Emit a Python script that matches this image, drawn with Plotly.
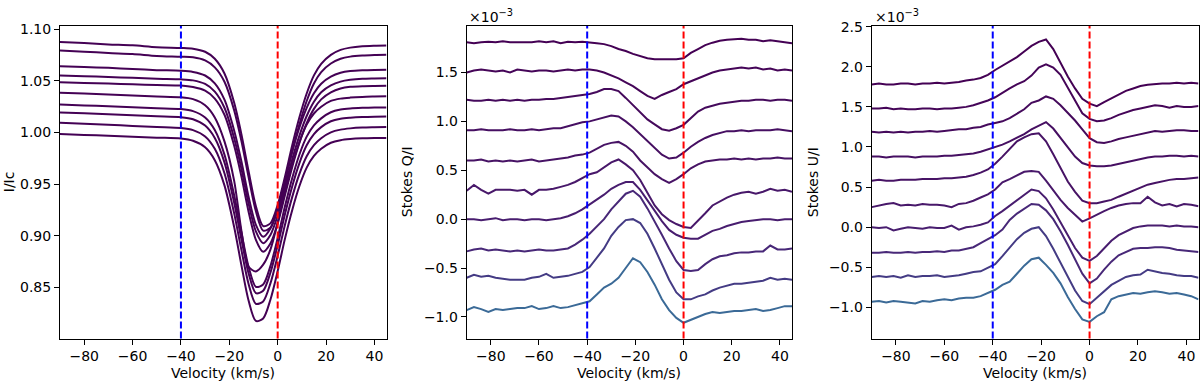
import plotly.graph_objects as go

# ---- Stokes I panel: velocity grid and normalised intensity profiles (top to bottom)
vel_i = [-90, -80, -70, -60, -50, -40, -35, -30, -26, -22, -18, -15, -12, -9, -6, -3,
         0, 3, 6, 9, 12, 15, 18, 22, 26, 30, 35, 40, 45]

i_01 = [1.0876, 1.0866, 1.0853, 1.0844, 1.0826, 1.0819, 1.0812, 1.0782, 1.0714, 1.0571, 1.0290, 0.9984, 0.9623, 0.9286, 0.9094, 0.9120, 0.9298, 0.9570, 0.9875, 1.0148, 1.0378, 1.0553, 1.0665, 1.0752, 1.0800, 1.0822, 1.0835, 1.0840, 1.0842]
i_02 = [1.0794, 1.0783, 1.0770, 1.0760, 1.0742, 1.0734, 1.0728, 1.0698, 1.0631, 1.0492, 1.0217, 0.9919, 0.9566, 0.9237, 0.9050, 0.9077, 0.9251, 0.9516, 0.9815, 1.0080, 1.0305, 1.0475, 1.0585, 1.0668, 1.0714, 1.0735, 1.0746, 1.0751, 1.0753]
i_03 = [1.0642, 1.0635, 1.0626, 1.0615, 1.0604, 1.0598, 1.0587, 1.0552, 1.0476, 1.0318, 1.0020, 0.9721, 0.9376, 0.9106, 0.8990, 0.9070, 0.9266, 0.9540, 0.9815, 1.0048, 1.0238, 1.0380, 1.0472, 1.0540, 1.0578, 1.0595, 1.0603, 1.0606, 1.0607]
i_04 = [1.0553, 1.0546, 1.0537, 1.0530, 1.0521, 1.0515, 1.0505, 1.0470, 1.0396, 1.0240, 0.9946, 0.9650, 0.9310, 0.9042, 0.8928, 0.9008, 0.9198, 0.9468, 0.9739, 0.9970, 1.0160, 1.0298, 1.0390, 1.0456, 1.0493, 1.0510, 1.0520, 1.0523, 1.0525]
i_05 = [1.0487, 1.0480, 1.0474, 1.0467, 1.0460, 1.0455, 1.0440, 1.0405, 1.0329, 1.0172, 0.9874, 0.9575, 0.9231, 0.8961, 0.8845, 0.8925, 0.9118, 0.9392, 0.9665, 0.9898, 1.0090, 1.0229, 1.0321, 1.0389, 1.0426, 1.0442, 1.0449, 1.0451, 1.0452]
i_06 = [1.0385, 1.0377, 1.0368, 1.0358, 1.0349, 1.0341, 1.0323, 1.0264, 1.0146, 0.9914, 0.9534, 0.9050, 0.8700, 0.8655, 0.8720, 0.8866, 0.9130, 0.9425, 0.9689, 0.9910, 1.0078, 1.0184, 1.0250, 1.0306, 1.0328, 1.0338, 1.0345, 1.0348, 1.0350]
i_07 = [1.0271, 1.0262, 1.0254, 1.0244, 1.0235, 1.0227, 1.0207, 1.0146, 1.0024, 0.9786, 0.9394, 0.9033, 0.8697, 0.8505, 0.8528, 0.8706, 0.8978, 0.9283, 0.9557, 0.9787, 0.9960, 1.0068, 1.0137, 1.0196, 1.0222, 1.0233, 1.0239, 1.0242, 1.0243]
i_08 = [1.0195, 1.0186, 1.0176, 1.0166, 1.0157, 1.0148, 1.0128, 1.0067, 0.9947, 0.9711, 0.9323, 0.8966, 0.8634, 0.8444, 0.8467, 0.8642, 0.8909, 0.9209, 0.9478, 0.9704, 0.9876, 0.9985, 1.0052, 1.0109, 1.0133, 1.0143, 1.0150, 1.0153, 1.0154]
i_09 = [1.0094, 1.0084, 1.0074, 1.0064, 1.0053, 1.0043, 1.0023, 0.9962, 0.9842, 0.9606, 0.9219, 0.8863, 0.8531, 0.8341, 0.8364, 0.8539, 0.8806, 0.9105, 0.9374, 0.9599, 0.9770, 0.9878, 0.9945, 1.0002, 1.0028, 1.0040, 1.0048, 1.0051, 1.0053]
i_10 = [0.9986, 0.9977, 0.9968, 0.9960, 0.9950, 0.9942, 0.9920, 0.9857, 0.9732, 0.9488, 0.9086, 0.8716, 0.8371, 0.8175, 0.8199, 0.8381, 0.8658, 0.8970, 0.9248, 0.9482, 0.9660, 0.9773, 0.9843, 0.9901, 0.9926, 0.9937, 0.9944, 0.9947, 0.9948]

# ---- Stokes Q/I and U/I panels (values in units of 1e-3), velocity grid
vel_qu = [-90, -87, -84, -81, -78, -75, -72, -69, -66, -63, -60, -57, -54, -51, -48, -45,
          -42, -39, -36, -33, -30, -27, -24, -21, -18, -15, -12, -9, -6, -3, 0, 3, 6, 9,
          12, 15, 18, 21, 24, 27, 30, 33, 36, 39, 42, 45]

q_01 = [1.81, 1.80, 1.81, 1.815, 1.81, 1.82, 1.81, 1.81, 1.815, 1.81, 1.82, 1.81, 1.82, 1.80, 1.815, 1.81, 1.815, 1.81, 1.80, 1.79, 1.77, 1.74, 1.72, 1.69, 1.67, 1.645, 1.635, 1.635, 1.635, 1.635, 1.645, 1.70, 1.74, 1.78, 1.805, 1.825, 1.835, 1.84, 1.845, 1.835, 1.835, 1.82, 1.83, 1.82, 1.81, 1.80]
q_02 = [1.50, 1.52, 1.53, 1.52, 1.51, 1.52, 1.50, 1.53, 1.52, 1.51, 1.52, 1.52, 1.51, 1.52, 1.53, 1.52, 1.53, 1.53, 1.52, 1.50, 1.47, 1.44, 1.40, 1.36, 1.31, 1.26, 1.23, 1.27, 1.30, 1.33, 1.38, 1.41, 1.44, 1.47, 1.50, 1.52, 1.53, 1.54, 1.55, 1.54, 1.55, 1.53, 1.54, 1.52, 1.53, 1.52]
q_03 = [1.22, 1.21, 1.21, 1.22, 1.21, 1.22, 1.21, 1.22, 1.21, 1.22, 1.22, 1.23, 1.23, 1.24, 1.25, 1.26, 1.27, 1.28, 1.30, 1.33, 1.33, 1.31, 1.24, 1.17, 1.09, 1.02, 0.97, 0.92, 0.905, 0.93, 0.965, 1.03, 1.10, 1.14, 1.16, 1.18, 1.19, 1.20, 1.21, 1.21, 1.22, 1.22, 1.21, 1.22, 1.22, 1.21]
q_04 = [0.91, 0.91, 0.92, 0.91, 0.91, 0.91, 0.92, 0.91, 0.91, 0.92, 0.91, 0.92, 0.93, 0.93, 0.95, 0.97, 0.99, 1.00, 1.02, 1.04, 1.06, 1.05, 1.00, 0.94, 0.87, 0.79, 0.72, 0.66, 0.62, 0.63, 0.68, 0.74, 0.79, 0.83, 0.86, 0.88, 0.90, 0.90, 0.91, 0.90, 0.91, 0.91, 0.91, 0.92, 0.91, 0.90]
q_05 = [0.60, 0.60, 0.61, 0.59, 0.60, 0.59, 0.60, 0.59, 0.60, 0.61, 0.59, 0.60, 0.61, 0.62, 0.63, 0.65, 0.66, 0.68, 0.72, 0.76, 0.78, 0.79, 0.75, 0.69, 0.60, 0.53, 0.46, 0.41, 0.37, 0.41, 0.46, 0.52, 0.56, 0.59, 0.60, 0.61, 0.61, 0.62, 0.61, 0.62, 0.61, 0.62, 0.62, 0.63, 0.62, 0.62]
q_06 = [0.29, 0.35, 0.30, 0.26, 0.30, 0.30, 0.30, 0.29, 0.30, 0.25, 0.30, 0.30, 0.31, 0.33, 0.35, 0.38, 0.42, 0.46, 0.48, 0.53, 0.58, 0.61, 0.56, 0.50, 0.40, 0.27, 0.14, 0.05, -0.01, -0.05, -0.08, -0.09, -0.02, 0.06, 0.14, 0.18, 0.22, 0.25, 0.27, 0.28, 0.26, 0.28, 0.31, 0.29, 0.30, 0.28]
q_07 = [0.00, 0.00, -0.01, 0.00, 0.01, -0.01, 0.00, 0.00, -0.01, 0.00, 0.00, -0.01, 0.00, 0.01, 0.03, 0.06, 0.10, 0.15, 0.20, 0.25, 0.31, 0.35, 0.38, 0.38, 0.30, 0.19, 0.09, -0.02, -0.11, -0.16, -0.19, -0.20, -0.20, -0.16, -0.12, -0.10, -0.07, -0.05, -0.03, -0.02, -0.01, 0.00, 0.00, -0.01, 0.00, 0.00]
q_08 = [-0.33, -0.31, -0.30, -0.32, -0.31, -0.32, -0.33, -0.32, -0.33, -0.32, -0.31, -0.32, -0.32, -0.31, -0.30, -0.26, -0.21, -0.15, -0.08, 0.00, 0.10, 0.18, 0.26, 0.29, 0.23, 0.11, -0.02, -0.16, -0.30, -0.43, -0.52, -0.53, -0.52, -0.46, -0.41, -0.38, -0.37, -0.35, -0.34, -0.34, -0.33, -0.33, -0.27, -0.31, -0.31, -0.30]
q_09 = [-0.60, -0.57, -0.59, -0.58, -0.60, -0.61, -0.62, -0.62, -0.62, -0.60, -0.59, -0.56, -0.60, -0.59, -0.58, -0.56, -0.54, -0.49, -0.40, -0.30, -0.17, -0.08, -0.01, 0.00, -0.04, -0.15, -0.30, -0.46, -0.62, -0.75, -0.82, -0.82, -0.79, -0.77, -0.73, -0.70, -0.68, -0.66, -0.66, -0.65, -0.64, -0.63, -0.60, -0.62, -0.61, -0.62]
q_10 = [-0.93, -0.90, -0.92, -0.95, -0.92, -0.93, -0.92, -0.91, -0.91, -0.89, -0.92, -0.91, -0.89, -0.91, -0.90, -0.88, -0.86, -0.84, -0.77, -0.70, -0.66, -0.60, -0.50, -0.40, -0.44, -0.54, -0.67, -0.82, -0.93, -1.01, -1.06, -1.03, -1.00, -0.97, -0.95, -0.96, -0.95, -0.94, -0.94, -0.93, -0.92, -0.94, -0.93, -0.91, -0.89, -0.89]

u_01 = [1.78, 1.79, 1.78, 1.78, 1.79, 1.79, 1.78, 1.79, 1.79, 1.80, 1.79, 1.80, 1.81, 1.83, 1.84, 1.86, 1.90, 1.96, 2.01, 2.06, 2.12, 2.19, 2.26, 2.31, 2.34, 2.22, 2.04, 1.88, 1.73, 1.60, 1.54, 1.51, 1.56, 1.61, 1.65, 1.70, 1.73, 1.76, 1.775, 1.785, 1.79, 1.79, 1.80, 1.79, 1.80, 1.79]
u_02 = [1.48, 1.48, 1.49, 1.47, 1.48, 1.47, 1.47, 1.48, 1.48, 1.47, 1.48, 1.48, 1.49, 1.50, 1.52, 1.55, 1.58, 1.62, 1.68, 1.73, 1.78, 1.82, 1.89, 1.99, 2.03, 1.99, 1.90, 1.74, 1.59, 1.42, 1.35, 1.32, 1.33, 1.36, 1.40, 1.43, 1.46, 1.48, 1.50, 1.52, 1.51, 1.49, 1.51, 1.50, 1.50, 1.51]
u_03 = [1.19, 1.18, 1.19, 1.18, 1.19, 1.18, 1.19, 1.19, 1.20, 1.19, 1.20, 1.21, 1.22, 1.22, 1.24, 1.25, 1.28, 1.30, 1.32, 1.36, 1.41, 1.47, 1.55, 1.58, 1.63, 1.60, 1.52, 1.43, 1.33, 1.22, 1.11, 1.06, 1.05, 1.07, 1.10, 1.12, 1.14, 1.16, 1.18, 1.20, 1.19, 1.20, 1.21, 1.21, 1.20, 1.20]
u_04 = [0.88, 0.88, 0.87, 0.88, 0.88, 0.88, 0.87, 0.88, 0.88, 0.88, 0.89, 0.89, 0.90, 0.91, 0.92, 0.94, 0.97, 1.00, 1.03, 1.07, 1.11, 1.16, 1.22, 1.27, 1.31, 1.23, 1.11, 1.00, 0.88, 0.80, 0.77, 0.76, 0.76, 0.77, 0.79, 0.81, 0.83, 0.85, 0.87, 0.88, 0.88, 0.89, 0.89, 0.88, 0.89, 0.88]
u_05 = [0.58, 0.59, 0.58, 0.58, 0.59, 0.59, 0.59, 0.60, 0.60, 0.60, 0.61, 0.61, 0.62, 0.63, 0.65, 0.68, 0.72, 0.79, 0.88, 0.98, 1.07, 1.12, 1.16, 1.17, 1.07, 0.91, 0.73, 0.57, 0.44, 0.33, 0.30, 0.30, 0.32, 0.34, 0.38, 0.42, 0.46, 0.50, 0.53, 0.55, 0.57, 0.59, 0.60, 0.60, 0.61, 0.62]
u_06 = [0.25, 0.27, 0.29, 0.30, 0.27, 0.28, 0.27, 0.29, 0.28, 0.28, 0.27, 0.25, 0.29, 0.30, 0.33, 0.37, 0.41, 0.47, 0.56, 0.60, 0.64, 0.69, 0.70, 0.69, 0.58, 0.46, 0.34, 0.24, 0.15, 0.07, 0.11, 0.16, 0.20, 0.24, 0.27, 0.29, 0.30, 0.30, 0.38, 0.31, 0.27, 0.29, 0.26, 0.29, 0.28, 0.26]
u_07 = [0.00, -0.01, 0.00, -0.04, -0.02, 0.00, -0.01, -0.02, 0.00, -0.01, -0.01, 0.02, -0.03, 0.00, 0.01, 0.03, 0.06, 0.14, 0.20, 0.27, 0.33, 0.40, 0.47, 0.45, 0.36, 0.22, 0.06, -0.10, -0.26, -0.38, -0.42, -0.36, -0.26, -0.17, -0.10, -0.05, -0.01, 0.01, 0.02, 0.02, 0.02, 0.01, 0.02, 0.01, 0.01, 0.00]
u_08 = [-0.32, -0.32, -0.31, -0.32, -0.32, -0.31, -0.32, -0.31, -0.31, -0.30, -0.31, -0.29, -0.29, -0.27, -0.25, -0.20, -0.15, -0.10, -0.03, 0.09, 0.17, 0.23, 0.29, 0.28, 0.21, 0.10, -0.05, -0.22, -0.40, -0.58, -0.70, -0.64, -0.53, -0.43, -0.35, -0.31, -0.27, -0.26, -0.26, -0.25, -0.25, -0.26, -0.28, -0.29, -0.30, -0.31]
u_09 = [-0.62, -0.61, -0.62, -0.61, -0.63, -0.60, -0.62, -0.61, -0.61, -0.60, -0.62, -0.61, -0.60, -0.58, -0.56, -0.55, -0.50, -0.46, -0.36, -0.25, -0.15, -0.07, -0.02, 0.00, -0.11, -0.27, -0.45, -0.63, -0.79, -0.92, -0.96, -0.88, -0.80, -0.72, -0.67, -0.62, -0.60, -0.59, -0.53, -0.55, -0.57, -0.58, -0.60, -0.61, -0.61, -0.63]
u_10 = [-0.93, -0.92, -0.94, -0.92, -0.93, -0.94, -0.95, -0.92, -0.93, -0.91, -0.90, -0.91, -0.89, -0.88, -0.88, -0.86, -0.82, -0.78, -0.72, -0.68, -0.58, -0.48, -0.40, -0.38, -0.47, -0.57, -0.70, -0.87, -1.02, -1.15, -1.18, -1.11, -1.06, -0.90, -0.86, -0.84, -0.82, -0.83, -0.81, -0.80, -0.81, -0.83, -0.82, -0.84, -0.86, -0.90]

# line colours, top curve first (viridis-like, dark purple to blue)
QU_COLORS = ["#440154", "#450558", "#450a5c", "#460f62", "#471365", "#48186a",
             "#481d6f", "#482878", "#443b84", "#3b6a97"]
I_COLOR = "#440154"

FONT = "DejaVu Sans"
FS = 14
W, H = 1200, 382

fig = go.Figure()

for curve in [i_01, i_02, i_03, i_04, i_05, i_06, i_07, i_08, i_09, i_10]:
    fig.add_trace(go.Scatter(x=vel_i, y=curve, mode="lines", xaxis="x", yaxis="y",
                             line=dict(color=I_COLOR, width=2, shape="spline", smoothing=0.8),
                             showlegend=False, hoverinfo="skip"))

for k, curve in enumerate([q_01, q_02, q_03, q_04, q_05, q_06, q_07, q_08, q_09, q_10]):
    fig.add_trace(go.Scatter(x=vel_qu, y=curve, mode="lines", xaxis="x2", yaxis="y2",
                             line=dict(color=QU_COLORS[k], width=2),
                             showlegend=False, hoverinfo="skip"))

for k, curve in enumerate([u_01, u_02, u_03, u_04, u_05, u_06, u_07, u_08, u_09, u_10]):
    fig.add_trace(go.Scatter(x=vel_qu, y=curve, mode="lines", xaxis="x3", yaxis="y3",
                             line=dict(color=QU_COLORS[k], width=2),
                             showlegend=False, hoverinfo="skip"))

# panel boxes in pixels (left, right) and shared top/bottom
panels = [(60, 386.5), (466.7, 792), (871.7, 1198.5)]
top_px, bottom_px = 19.3, 337.7
ydom = [(H - bottom_px) / H, (H - top_px) / H]

axis_common = dict(
    showline=True, linecolor="black", linewidth=1, mirror=True,
    ticks="outside", ticklen=5, tickwidth=1, tickcolor="black",
    showgrid=False, zeroline=False,
    tickfont=dict(family=FONT, size=FS, color="black"),
)

yranges = [[0.8005, 1.1032], [-1.221, 1.976], [-1.388, 2.509]]
yticks = [[0.85, 0.90, 0.95, 1.00, 1.05, 1.10],
          [-1.0, -0.5, 0.0, 0.5, 1.0, 1.5],
          [-1.0, -0.5, 0.0, 0.5, 1.0, 1.5, 2.0, 2.5]]
yfmt = [".2f", ".1f", ".1f"]

layout_axes = {}
for n in range(3):
    sfx = "" if n == 0 else str(n + 1)
    l, r = panels[n]
    layout_axes["xaxis" + sfx] = dict(axis_common, domain=[l / W, r / W], range=[-90, 45],
                                      anchor="y" + sfx, tickvals=[-80, -60, -40, -20, 0, 20, 40])
    layout_axes["yaxis" + sfx] = dict(axis_common, domain=ydom, range=yranges[n],
                                      anchor="x" + sfx, tickvals=yticks[n], tickformat=yfmt[n])

shapes = []
for n in range(3):
    sfx = "" if n == 0 else str(n + 1)
    for xv, col in [(-40, "blue"), (0, "red")]:
        shapes.append(dict(type="line", xref="x" + sfx, yref="y" + sfx + " domain",
                           x0=xv, x1=xv, y0=0, y1=1,
                           line=dict(color=col, width=2, dash="7px,3px")))

txt = dict(family=FONT, size=FS, color="black")
annotations = []
for n, (l, r) in enumerate(panels):
    annotations.append(dict(text="Velocity (km/s)", xref="paper", yref="paper",
                            x=(l + r) / 2 / W, y=(H - 373) / H, showarrow=False,
                            xanchor="center", yanchor="middle", font=txt))
for xpx, label in [(9, "I/Ic"), (407, "Stokes Q/I"), (813, "Stokes U/I")]:
    annotations.append(dict(text=label, xref="paper", yref="paper", x=xpx / W,
                            y=(H - (top_px + bottom_px) / 2) / H, textangle=-90,
                            showarrow=False, xanchor="center", yanchor="middle", font=txt))
for xpx in [467, 873]:
    annotations.append(dict(text="×10<sup>−3</sup>", xref="paper", yref="paper",
                            x=xpx / W, y=(H - 9) / H, showarrow=False,
                            xanchor="left", yanchor="middle", font=txt))

fig.update_layout(
    width=W, height=H,
    margin=dict(l=0, r=0, t=0, b=0),
    plot_bgcolor="white", paper_bgcolor="white",
    font=dict(family=FONT, size=FS, color="black"),
    shapes=shapes, annotations=annotations,
    **layout_axes,
)

# remove the default page margin so the figure sits at the window origin
fig.write_html("out.html", config={"displayModeBar": False},
               post_script="document.body.style.margin='0';")
